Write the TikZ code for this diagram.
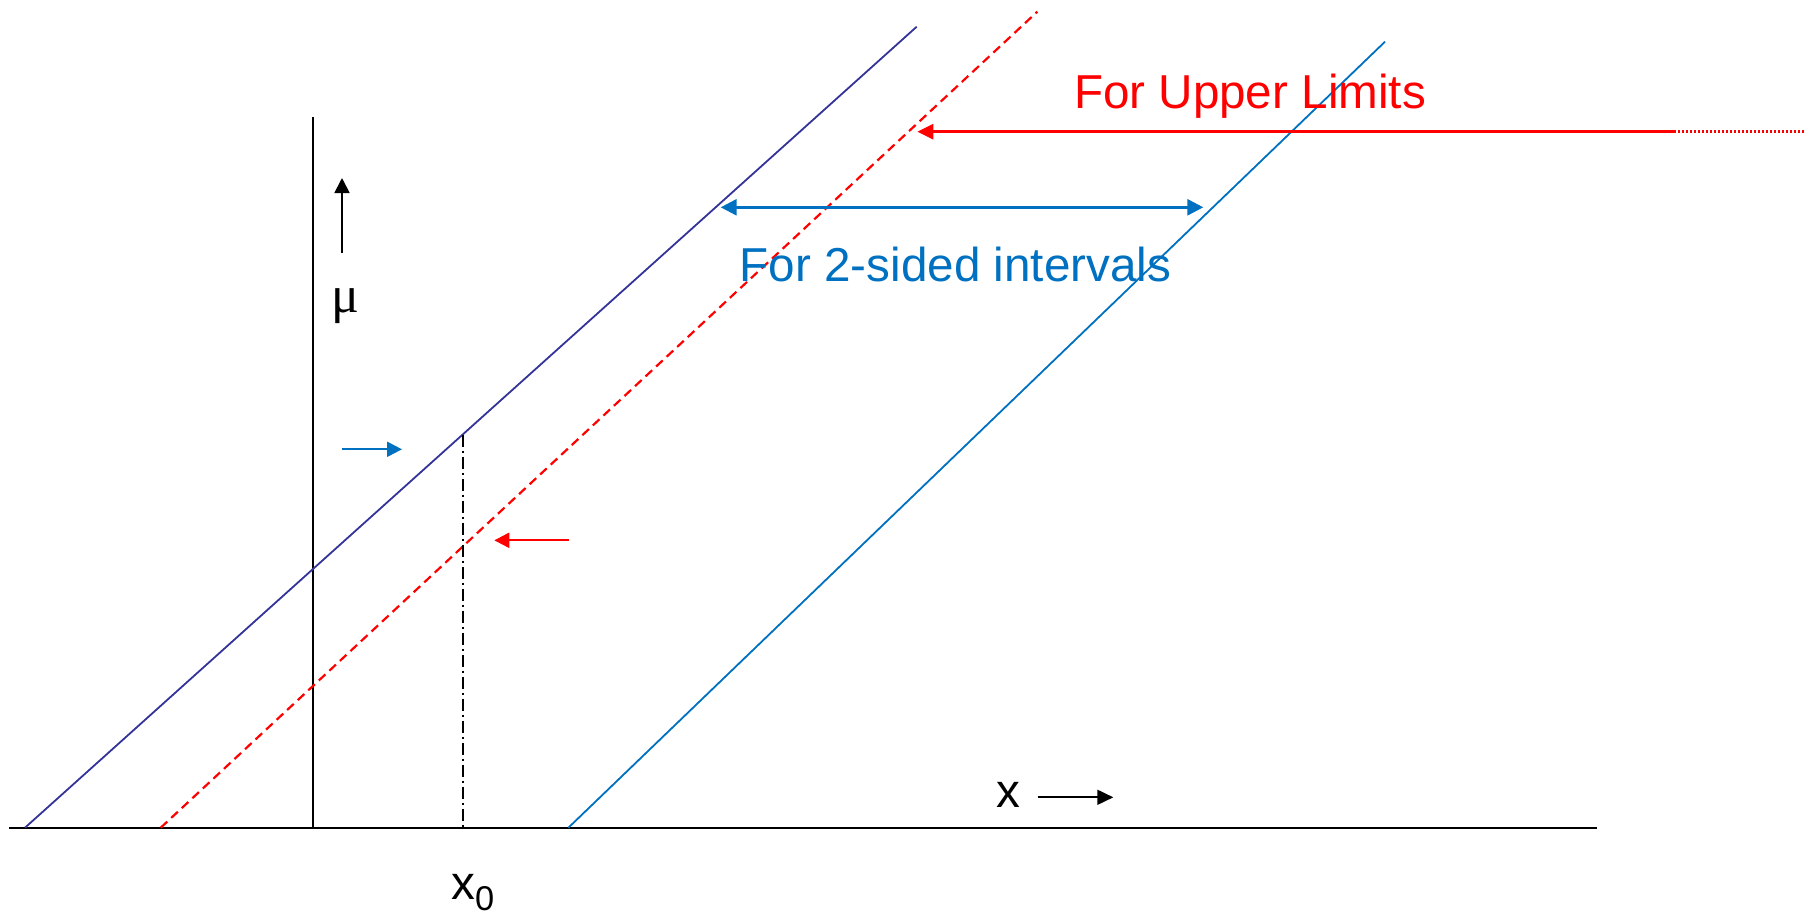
\documentclass[tikz,border=0pt]{standalone}
\usepackage{fontspec}
\setmainfont{Liberation Sans}
\newfontfamily\serifmu{Liberation Serif}
\usetikzlibrary{arrows.meta}
\definecolor{navyline}{HTML}{333399}
\definecolor{officeblue}{HTML}{0070C0}
\definecolor{pureRed}{HTML}{FF0000}
\begin{document}
\begin{tikzpicture}[x=0.5bp,y=-0.5bp,
  axisline/.style={draw=black,line width=1.2bp},
  navyl/.style={draw=navyline,line width=0.9bp},
  bluel/.style={draw=officeblue,line width=0.9bp},
  reddash/.style={draw=pureRed,line width=1.1bp,dash pattern=on 4.5bp off 2.7bp},
  dashdot/.style={draw=black,line width=0.9bp,dash pattern=on 6bp off 2bp on 1bp off 2bp},
  headtip/.style={-{Triangle[length=7.5bp,width=7.5bp]}},
  lbl/.style={inner sep=0pt,anchor=base,font=\fontsize{23.8bp}{28bp}\selectfont},
]
\useasboundingbox (0,0) rectangle (1804,915);
% axes
\coordinate (hl) at (9,827.7);
\coordinate (hr) at (1597,827.7);
\coordinate (vt) at (312.7,116.7);
\coordinate (vb) at (312.7,827.7);
\draw[axisline] (hl) -- (hr);
\draw[axisline] (vb) -- (vt);
% diagonal bands
\coordinate (nb) at (25,827.7);
\coordinate (nt) at (916.7,26.7);
\coordinate (rb) at (160.7,827.7);
\coordinate (rt) at (1037.3,11.7);
\coordinate (bb) at (568.4,827.7);
\coordinate (bt) at (1385,41.7);
\draw[navyl] (nb) -- (nt);
\draw[reddash] (rb) -- (rt);
\draw[bluel] (bb) -- (bt);
% x0 vertical
\coordinate (x0t) at (462.7,434.6);
\coordinate (x0b) at (462.7,827.7);
\draw[dashdot] (x0t) -- (x0b);
% red upper-limit arrow
\coordinate (rat) at (917.3,131.7);
\coordinate (rae) at (1674,131.7);
\coordinate (rad) at (1804,131.7);
\draw[pureRed,line width=1.3bp,-{Triangle[length=8bp,width=7.5bp]}] (rae) -- (rat);
\draw[pureRed,line width=1.3bp,dash pattern=on 1bp off 1bp] (rae) -- (rad);
% blue 2-sided arrow
\coordinate (bal) at (720.7,207.3);
\coordinate (bar) at (1203.3,207.3);
\draw[officeblue,line width=1.4bp,{Triangle[length=8bp,width=8bp]}-{Triangle[length=8bp,width=8bp]}] (bal) -- (bar);
% labels
\node[lbl,text=pureRed] (ul) at (1250,108) {For Upper Limits};
\node[lbl,text=officeblue] (ts) at (955.5,281) {For 2-sided intervals};
% mu arrow and label
\coordinate (mub) at (342,252.7);
\coordinate (mut) at (342,178);
\draw[black,line width=0.9bp,headtip] (mub) -- (mut);
\node[inner sep=0pt,anchor=base,font=\serifmu\fontsize{26bp}{30bp}\selectfont] (mu) at (345,312) {μ};
% small arrows
\coordinate (sba) at (342,449.3);
\coordinate (sbb) at (402,449.3);
\draw[officeblue,line width=1.1bp,headtip] (sba) -- (sbb);
\coordinate (sra) at (569,540.3);
\coordinate (srb) at (494.3,540.3);
\draw[pureRed,line width=1.1bp,headtip] (sra) -- (srb);
% x arrow
\node[lbl] (xl) at (1008,807.3) {x};
\coordinate (xa) at (1037.7,797.3);
\coordinate (xb) at (1113.3,797.3);
\draw[black,line width=0.9bp,-{Triangle[length=8bp,width=7.5bp]}] (xa) -- (xb);
% x0 label
\node[lbl,anchor=base west] (x0) at (451,899) {x\raisebox{-5.85bp}{\fontsize{17.2bp}{20bp}\selectfont 0}};
\end{tikzpicture}
\end{document}
